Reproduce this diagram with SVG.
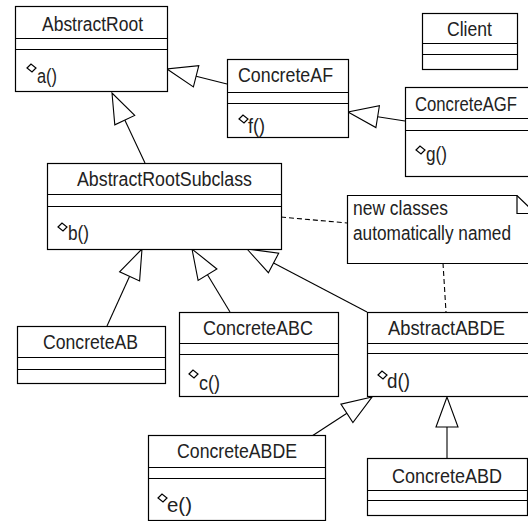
<svg xmlns="http://www.w3.org/2000/svg" width="528" height="521" viewBox="0 0 528 521">
<style>
rect.box{fill:#fff;stroke:#000;stroke-width:1.2}
line.sep{stroke:#000;stroke-width:1.2}
text{font-family:"Liberation Sans",Arial,sans-serif;font-size:17.5px;fill:#222}
text.n{text-anchor:middle}
path.ic{fill:#fff;stroke:#000;stroke-width:1.2}
.c line{stroke:#000;stroke-width:1.1;fill:none}
.c polygon{fill:#fff;stroke:#000;stroke-width:1.1}
.c line.d{stroke-dasharray:5 3}
</style>
<defs>
<path id="dm" class="ic" d="M0,4 L4,0 L9,4 L5,8 Z"/>
</defs>
<rect width="528" height="521" fill="#fff"/>

<g class="c" id="connectors">
<line x1="124.8" y1="120.1" x2="145" y2="163"/>
<polygon points="112,93 114.8,124.8 134.7,115.4"/>
<line x1="196.1" y1="76.3" x2="227" y2="84"/>
<polygon points="167,69 193.4,86.9 198.8,65.6"/>
<line x1="377.6" y1="116.7" x2="405" y2="121"/>
<polygon points="348,112 375.9,127.6 379.4,105.8"/>
<line x1="129.6" y1="276.3" x2="107" y2="326"/>
<polygon points="142,249 119.6,271.8 139.6,280.9"/>
<line x1="207.5" y1="274.7" x2="230" y2="312"/>
<polygon points="192,249 198.1,280.4 216.9,269"/>
<line x1="273.6" y1="263" x2="367" y2="312"/>
<polygon points="247,249 268.4,272.7 278.7,253.2"/>
<line x1="346.9" y1="413.3" x2="312" y2="436"/>
<polygon points="372,397 340.9,404.1 352.9,422.5"/>
<line x1="447" y1="427" x2="447" y2="458"/>
<polygon points="447,397 436,427 458,427"/>
<line class="d" x1="281" y1="217" x2="347" y2="223"/>
<line class="d" x1="443" y1="263" x2="446" y2="312"/>
</g>

<g id="AbstractRoot">
<rect class="box" x="15.5" y="6.5" width="152" height="85"/>
<line class="sep" x1="15.5" y1="38.5" x2="167.5" y2="38.5"/>
<line class="sep" x1="15.5" y1="49.5" x2="167.5" y2="49.5"/>
<text class="n" transform="translate(92.5,31) scale(1,1.2)" textLength="101" lengthAdjust="spacingAndGlyphs">AbstractRoot</text>
<use href="#dm" x="27" y="64"/>
<text transform="translate(37,83) scale(1,1.2)" textLength="20" lengthAdjust="spacingAndGlyphs">a()</text>
</g>

<g id="ConcreteAF">
<rect class="box" x="227.5" y="59.5" width="121" height="78"/>
<line class="sep" x1="227.5" y1="92.5" x2="348.5" y2="92.5"/>
<line class="sep" x1="227.5" y1="103.5" x2="348.5" y2="103.5"/>
<text class="n" transform="translate(285.5,82) scale(1,1.2)" textLength="95" lengthAdjust="spacingAndGlyphs">ConcreteAF</text>
<use href="#dm" x="239" y="115"/>
<text transform="translate(248,133) scale(1,1.2)" textLength="17" lengthAdjust="spacingAndGlyphs">f()</text>
</g>

<g id="Client">
<rect class="box" x="422.5" y="13.5" width="95" height="56"/>
<line class="sep" x1="422.5" y1="43.5" x2="517.5" y2="43.5"/>
<line class="sep" x1="422.5" y1="54.5" x2="517.5" y2="54.5"/>
<text class="n" transform="translate(469.5,36) scale(1,1.2)" textLength="45" lengthAdjust="spacingAndGlyphs">Client</text>
</g>

<g id="ConcreteAGF">
<rect class="box" x="405.5" y="87.5" width="135" height="89"/>
<line class="sep" x1="405.5" y1="118.5" x2="540" y2="118.5"/>
<line class="sep" x1="405.5" y1="130.5" x2="540" y2="130.5"/>
<text class="n" transform="translate(466,111) scale(1,1.2)" textLength="102" lengthAdjust="spacingAndGlyphs">ConcreteAGF</text>
<use href="#dm" x="416" y="146"/>
<text transform="translate(426,161) scale(1,1.2)" textLength="21" lengthAdjust="spacingAndGlyphs">g()</text>
</g>

<g id="AbstractRootSubclass">
<rect class="box" x="47.5" y="163.5" width="234" height="86"/>
<line class="sep" x1="47.5" y1="194.5" x2="281.5" y2="194.5"/>
<line class="sep" x1="47.5" y1="206.5" x2="281.5" y2="206.5"/>
<text class="n" transform="translate(164.5,186) scale(1,1.2)" textLength="175" lengthAdjust="spacingAndGlyphs">AbstractRootSubclass</text>
<use href="#dm" x="58" y="223"/>
<text transform="translate(68,240) scale(1,1.2)" textLength="21" lengthAdjust="spacingAndGlyphs">b()</text>
</g>

<g id="note">
<path d="M347.5,195.5 H517 L536,214 V263.5 H347.5 Z" fill="#fff" stroke="#000" stroke-width="1.2"/>
<path d="M517,195.5 V213.5 H536" fill="none" stroke="#000" stroke-width="1.2"/>
<text transform="translate(353,215) scale(1,1.2)" textLength="95" lengthAdjust="spacingAndGlyphs">new classes</text>
<text transform="translate(353,240) scale(1,1.2)" textLength="158" lengthAdjust="spacingAndGlyphs">automatically named</text>
</g>

<g id="ConcreteAB">
<rect class="box" x="17.5" y="326.5" width="148" height="57"/>
<line class="sep" x1="17.5" y1="357.5" x2="165.5" y2="357.5"/>
<line class="sep" x1="17.5" y1="369.5" x2="165.5" y2="369.5"/>
<text class="n" transform="translate(90.5,349) scale(1,1.2)" textLength="95" lengthAdjust="spacingAndGlyphs">ConcreteAB</text>
</g>

<g id="ConcreteABC">
<rect class="box" x="179.5" y="312.5" width="159" height="84"/>
<line class="sep" x1="179.5" y1="343.5" x2="338.5" y2="343.5"/>
<line class="sep" x1="179.5" y1="354.5" x2="338.5" y2="354.5"/>
<text class="n" transform="translate(258,335) scale(1,1.2)" textLength="110" lengthAdjust="spacingAndGlyphs">ConcreteABC</text>
<use href="#dm" x="189" y="370"/>
<text transform="translate(199,390) scale(1,1.2)" textLength="21" lengthAdjust="spacingAndGlyphs">c()</text>
</g>

<g id="AbstractABDE">
<rect class="box" x="367.5" y="312.5" width="175" height="84"/>
<line class="sep" x1="367.5" y1="343.5" x2="542" y2="343.5"/>
<line class="sep" x1="367.5" y1="353.5" x2="542" y2="353.5"/>
<text class="n" transform="translate(446.5,335) scale(1,1.2)" textLength="117" lengthAdjust="spacingAndGlyphs">AbstractABDE</text>
<use href="#dm" x="378" y="371"/>
<text transform="translate(387,388) scale(1,1.2)" textLength="23" lengthAdjust="spacingAndGlyphs">d()</text>
</g>

<g id="ConcreteABDE">
<rect class="box" x="148.5" y="435.5" width="177" height="85"/>
<line class="sep" x1="148.5" y1="467.5" x2="325.5" y2="467.5"/>
<line class="sep" x1="148.5" y1="478.5" x2="325.5" y2="478.5"/>
<text class="n" transform="translate(237,458) scale(1,1.2)" textLength="120" lengthAdjust="spacingAndGlyphs">ConcreteABDE</text>
<use href="#dm" x="158" y="494"/>
<text transform="translate(167,512) scale(1,1.2)" textLength="25" lengthAdjust="spacingAndGlyphs">e()</text>
</g>

<g id="ConcreteABD">
<rect class="box" x="367.5" y="458.5" width="160" height="57"/>
<line class="sep" x1="367.5" y1="490.5" x2="527.5" y2="490.5"/>
<line class="sep" x1="367.5" y1="500.5" x2="527.5" y2="500.5"/>
<text class="n" transform="translate(447,483) scale(1,1.2)" textLength="110" lengthAdjust="spacingAndGlyphs">ConcreteABD</text>
</g>
</svg>
